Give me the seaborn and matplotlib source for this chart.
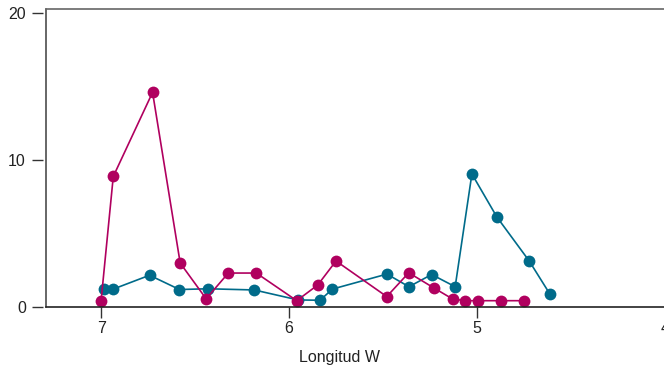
import pandas as pd
import seaborn as sns
import matplotlib
matplotlib.use("Agg")
import matplotlib.pyplot as plt

# longitude (degrees W) and values for the two series
teal_lon = [6.986, 6.935, 6.742, 6.583, 6.431, 6.185, 5.952, 5.835, 5.769,
            5.479, 5.362, 5.241, 5.116, 5.027, 4.894, 4.722, 4.611]
teal_val = [1.22, 1.22, 2.16, 1.19, 1.24, 1.16, 0.48, 0.46, 1.22,
            2.24, 1.38, 2.21, 1.38, 9.05, 6.12, 3.13, 0.86]

magenta_lon = [7.0, 6.935, 6.726, 6.579, 6.441, 6.323, 6.174, 5.959, 5.847,
               5.750, 5.480, 5.363, 5.231, 5.129, 5.064, 4.995, 4.871, 4.749]
magenta_val = [0.41, 8.88, 14.6, 2.99, 0.56, 2.31, 2.31, 0.43, 1.50,
               3.13, 0.71, 2.33, 1.31, 0.54, 0.43, 0.43, 0.43, 0.43]

x_ticks = [7, 6, 5, 4]
y_ticks = [0, 10, 20]
x_label = "Longitud W"

colors = {"magenta": "#b0005f", "teal": "#006b8a"}

df = pd.concat([
    pd.DataFrame({"serie": "teal", "lon": teal_lon, "val": teal_val}),
    pd.DataFrame({"serie": "magenta", "lon": magenta_lon, "val": magenta_val}),
])

sns.set_style("white")
plt.rcParams["font.family"] = ["Liberation Sans", "DejaVu Sans"]

fig = plt.figure(figsize=(6.64, 3.69), dpi=100)
# axes runs past the right edge of the figure, like the reference crop
ax = fig.add_axes([0.0687, 0.168, 0.961, 0.8076])

# teal first so the magenta series sits on top
sns.lineplot(data=df, x="lon", y="val", hue="serie", palette=colors,
             hue_order=["teal", "magenta"],
             marker="o", markersize=8.5, markeredgewidth=0, linewidth=1.2,
             legend=False, ax=ax)

ax.set_xlim(7.295, 3.9)
ax.set_ylim(0, 20.27)
ax.set_xticks(x_ticks)
ax.set_xticklabels([str(t) for t in x_ticks])
ax.set_yticks(y_ticks)
ax.set_ylabel("")
ax.set_xlabel(x_label, fontsize=11.5, color="#222222")
ax.xaxis.set_label_coords(0.4605, -0.145)

# y ticks sit a little away from the axis line
ax.spines["left"].set_position(("outward", 2.2))
ax.spines["left"].set_visible(False)
ax.plot([0, 0], [0, 1], transform=ax.transAxes, color="#666666",
        lw=1.4, clip_on=False)
ax.spines["top"].set_color("#666666")
ax.spines["top"].set_linewidth(1.2)
ax.spines["bottom"].set_color("#222222")
ax.spines["bottom"].set_linewidth(1.2)
ax.spines["right"].set_visible(False)

ax.tick_params(axis="y", direction="out", length=8, width=1, color="#333333",
               pad=4, labelsize=11.5, labelcolor="#222222", left=True)
ax.tick_params(axis="x", direction="out", length=8, width=1, color="#333333",
               pad=2, labelsize=11.5, labelcolor="#222222", bottom=True)

fig.savefig("out.png", dpi=100)
